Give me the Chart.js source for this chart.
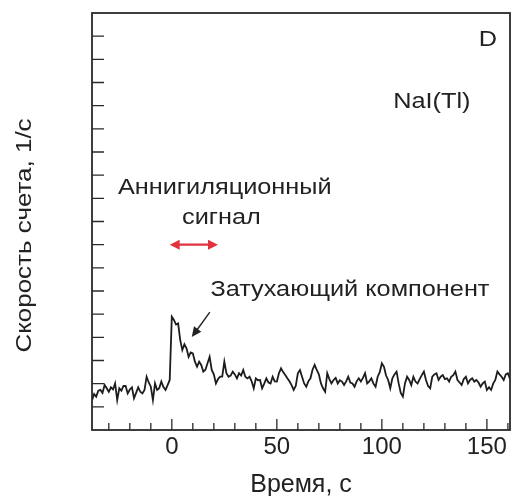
<!DOCTYPE html>
<html><head><meta charset="utf-8">
<script src="https://cdn.jsdelivr.net/npm/chart.js@4"></script>
<style>html,body{margin:0;padding:0;background:#fff}</style>
</head><body>
<canvas id="c" width="514" height="496"></canvas>
<script>
// ---- data ----
const times = [
 -38,-37,-36,-35,-34,-33,-32,-31,-30,-29,-28,-27,-26,-25,-24,-23,-22,-21,-20,-19,
 -18,-17,-16,-15,-14,-13,-12,-11,-10,-9,-8,-7,-6,-5,-4,-3,-2,-1,
 0,1,2,3,4,5,6,7,8,9,10,11,12,13,14,15,16,17,18,19,20,21,22,23,24,25,26,27,28,29,
 30,31,32,33,34,35,36,37,38,39,40,41,42,43,44,45,46,47,48,49,
 50,51,52,53,54,55,56,57,58,59,60,61,62,63,64,65,66,67,68,69,
 70,71,72,73,74,75,76,77,78,79,80,81,82,83,84,85,86,87,88,89,
 90,91,92,93,94,95,96,97,98,99,100,101,102,103,104,105,106,107,108,109,
 110,111,112,113,114,115,116,117,118,119,120,121,122,123,124,125,126,127,128,129,
 130,131,132,133,134,135,136,137,138,139,140,141,142,143,144,145,146,147,148,149,
 150,151,152,153,154,155,156,157,158,159,160,161
];
const counts = [
 1.29,1.55,1.44,1.70,1.73,1.60,1.94,1.80,1.65,1.84,1.75,2.01,1.29,1.80,1.70,1.90,1.90,1.58,1.75,1.84,
 1.37,1.60,1.84,1.65,1.58,1.73,2.30,2.05,1.87,1.29,2.01,1.73,1.80,2.09,1.85,1.73,1.94,2.16,
 4.89,4.75,4.55,4.60,3.88,3.45,3.70,3.53,3.16,3.35,3.31,2.95,2.73,2.95,2.81,2.52,2.60,2.88,3.16,2.59,2.40,2.01,2.20,2.30,2.30,2.95,2.45,2.30,2.35,2.52,
 2.40,2.23,2.45,2.35,2.59,2.30,2.23,2.30,2.10,1.80,2.23,2.15,2.16,1.80,2.00,2.23,2.05,2.01,2.30,2.10,
 2.09,2.45,2.66,2.50,2.37,2.23,2.10,1.94,1.73,1.90,2.45,2.59,2.30,2.01,1.87,2.10,2.23,2.60,2.81,2.59,
 2.40,2.01,1.80,1.65,2.45,2.20,2.01,2.16,2.25,2.01,2.15,2.09,1.94,2.10,2.30,2.05,2.01,1.87,2.10,2.23,
 2.09,2.25,2.45,2.01,2.10,2.23,2.00,1.87,2.30,2.50,2.88,2.73,2.35,2.16,1.80,2.23,2.40,2.52,2.01,1.60,
 1.44,2.01,2.30,2.16,1.94,2.30,2.09,2.01,2.20,2.37,2.52,2.16,1.90,1.80,2.30,2.40,2.45,2.16,2.30,2.37,
 2.20,2.23,2.09,2.30,2.37,2.52,2.16,2.05,1.94,2.20,2.30,2.01,2.16,2.23,2.09,2.16,2.05,1.87,2.01,2.09,
 1.73,1.85,1.73,2.00,2.16,2.52,2.40,2.30,2.16,2.40,2.45,2.20
];
const xMajorTicks = [0, 50, 100, 150];
const xMinorTicks = [-30,-20,-10,10,20,30,40,60,70,80,90,110,120,130,140,160];
const yTicks = [1,2,3,4,5,6,7,8,9,10,11,12,13,14,15,16,17];
const xLimits = [-38, 161];
const yLimits = [0, 18];
const xTitle = 'Время, с';
const yTitle = 'Скорость счета, 1/с';
const labels = [
  {text:'D', x:150.5, y:16.83},
  {text:'NaI(Tl)', x:123.8, y:14.16},
  {text:'Аннигиляционный', x:25.2, y:10.44},
  {text:'сигнал', x:23.6, y:9.15},
  {text:'Затухающий компонент', x:84.8, y:6.04}
];
const redArrow = {x1:-1, x2:22, y:8.0};
const blackArrow = {x1:18.1, y1:5.09, x2:9.5, y2:4.01};

const FONT = '"Liberation Sans", Arial, sans-serif';
const INK = '#222';

function head(ctx, x, y, ang, len, w) {
  ctx.beginPath();
  ctx.moveTo(x, y);
  ctx.lineTo(x - len*Math.cos(ang) + w*Math.sin(ang), y - len*Math.sin(ang) - w*Math.cos(ang));
  ctx.lineTo(x - len*Math.cos(ang) - w*Math.sin(ang), y - len*Math.sin(ang) + w*Math.cos(ang));
  ctx.closePath();
  ctx.fill();
}
function wideText(ctx, text, px, py, rot, stretch) {
  ctx.save();
  ctx.translate(px, py);
  if (rot) ctx.rotate(rot);
  ctx.scale(stretch, 1);
  ctx.fillText(text, 0, 0);
  ctx.restore();
}

const decor = {
  id: 'decor',
  afterDraw(chart) {
    const {ctx, chartArea: a, scales: {x, y}} = chart;
    ctx.save();
    // frame
    ctx.strokeStyle = '#2a2a2a';
    ctx.lineWidth = 1.8;
    ctx.strokeRect(a.left, a.top, a.right - a.left, a.bottom - a.top);
    // ticks (inside)
    ctx.lineWidth = 1.3;
    ctx.beginPath();
    xMajorTicks.forEach(v => { const p = x.getPixelForValue(v); ctx.moveTo(p, a.bottom); ctx.lineTo(p, a.bottom - 11); });
    xMinorTicks.forEach(v => { const p = x.getPixelForValue(v); ctx.moveTo(p, a.bottom); ctx.lineTo(p, a.bottom - 7); });
    yTicks.forEach(v => { const p = y.getPixelForValue(v); ctx.moveTo(a.left, p); ctx.lineTo(a.left + 12, p); });
    ctx.stroke();
    // y title
    ctx.fillStyle = INK;
    ctx.font = '22px ' + FONT;
    ctx.textAlign = 'center';
    ctx.textBaseline = 'middle';
    wideText(ctx, yTitle, 25, (a.top + a.bottom) / 2 + 14, -Math.PI / 2, 1.18);
    // labels
    labels.forEach(l => {
      wideText(ctx, l.text, x.getPixelForValue(l.x), y.getPixelForValue(l.y), 0, 1.15);
    });
    // red double arrow
    const rx1 = x.getPixelForValue(redArrow.x1), rx2 = x.getPixelForValue(redArrow.x2), ry = y.getPixelForValue(redArrow.y);
    ctx.strokeStyle = '#e2323c'; ctx.fillStyle = '#e2323c'; ctx.lineWidth = 2.2;
    ctx.beginPath(); ctx.moveTo(rx1 + 6, ry); ctx.lineTo(rx2 - 6, ry); ctx.stroke();
    head(ctx, rx1, ry, Math.PI, 10, 5);
    head(ctx, rx2, ry, 0, 10, 5);
    // black arrow
    const bx1 = x.getPixelForValue(blackArrow.x1), by1 = y.getPixelForValue(blackArrow.y1);
    const bx2 = x.getPixelForValue(blackArrow.x2), by2 = y.getPixelForValue(blackArrow.y2);
    const ang = Math.atan2(by2 - by1, bx2 - bx1);
    ctx.strokeStyle = '#222'; ctx.fillStyle = '#222'; ctx.lineWidth = 1.4;
    ctx.beginPath(); ctx.moveTo(bx1, by1); ctx.lineTo(bx2 - 6*Math.cos(ang), by2 - 6*Math.sin(ang)); ctx.stroke();
    head(ctx, bx2, by2, ang, 10, 4.5);
    ctx.restore();
  }
};

new Chart(document.getElementById('c'), {
  type: 'line',
  data: {
    datasets: [{
      data: times.map((t, i) => ({x: t, y: counts[i]})),
      borderColor: '#1c1c1c',
      borderWidth: 1.8,
      pointRadius: 0,
      tension: 0,
      fill: false
    }]
  },
  options: {
    responsive: false,
    animation: false,
    devicePixelRatio: 1,
    layout: {padding: {top: 13, right: 4, left: 0, bottom: 0}},
    plugins: {legend: {display: false}, tooltip: {enabled: false}},
    scales: {
      x: {
        type: 'linear', min: xLimits[0], max: xLimits[1],
        grid: {display: false, drawTicks: false},
        border: {display: false},
        afterBuildTicks: s => { s.ticks = xMajorTicks.map(v => ({value: v})); },
        afterFit: s => { s.height = 66; },
        ticks: {color: INK, font: {family: FONT, size: 24}, padding: 3, maxRotation: 0},
        title: {display: true, text: xTitle, color: INK, font: {family: FONT, size: 25, lineHeight: 0.85}, padding: {top: 0, bottom: 0}}
      },
      y: {
        type: 'linear', min: yLimits[0], max: yLimits[1],
        grid: {display: false, drawTicks: false},
        border: {display: false},
        ticks: {display: false},
        afterFit: s => { s.width = 92; }
      }
    }
  },
  plugins: [decor]
});
</script>
</body></html>
